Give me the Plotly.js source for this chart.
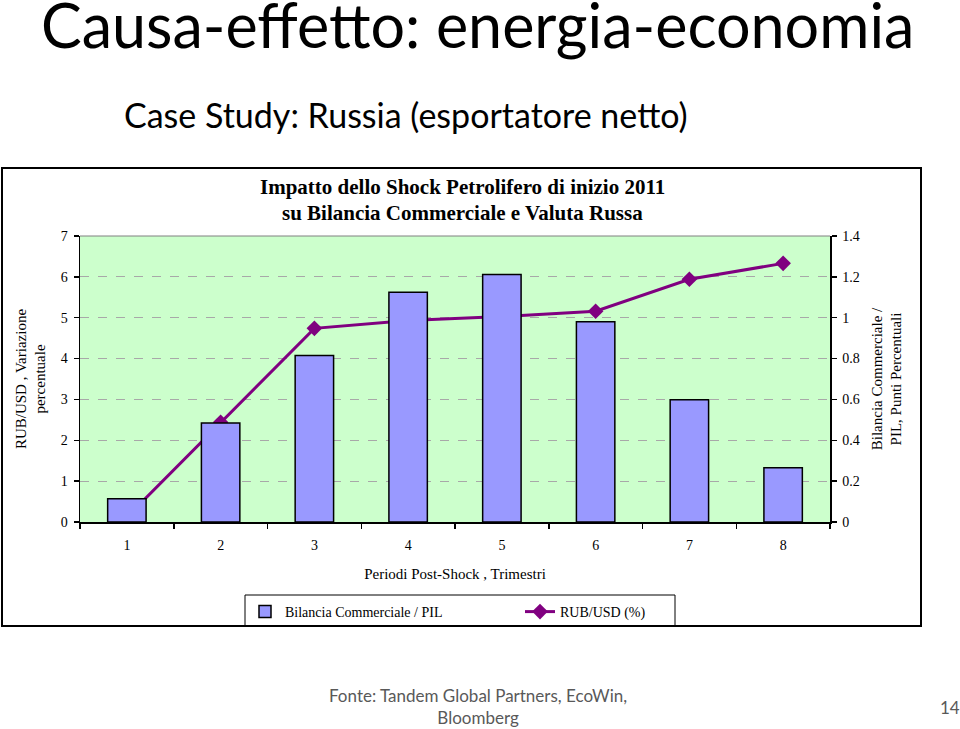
<!DOCTYPE html>
<html>
<head>
<meta charset="utf-8">
<script src="https://cdn.plot.ly/plotly-3.0.1.min.js"></script>
<style>
html,body{margin:0;padding:0;background:#fff;}
#chart{width:960px;height:729px;}
</style>
</head>
<body>
<div id="chart"></div>
<script>
// ---- data ----
const periods = ["1", "2", "3", "4", "5", "6", "7", "8"];
const bilanciaPIL = [0.114, 0.485, 0.815, 1.125, 1.212, 0.98, 0.598, 0.265];   // right axis
const rubUsd = [0.12, 2.44, 4.74, 4.93, 5.03, 5.16, 5.94, 6.33];               // left axis
const leftTicks = [0, 1, 2, 3, 4, 5, 6, 7];
const rightTicks = [0, 0.2, 0.4, 0.6, 0.8, 1, 1.2, 1.4];
const rightTickText = ["0", "0.2", "0.4", "0.6", "0.8", "1", "1.2", "1.4"];

const serif = "Liberation Serif, Times New Roman, serif";
const sans = "Lato, Noto Sans, sans-serif";

// plot area in pixels: x 80..830, y 236..522
const L = 80, R = 830, T = 236, B = 522;
const W = R - L, H = B - T;
const px = x => (x - L) / W;
const py = y => (B - y) / H;

const traces = [
  {
    type: "bar", x: periods, y: bilanciaPIL, yaxis: "y2",
    name: "Bilancia Commerciale / PIL",
    width: 0.41,
    marker: {color: "#9999ff", line: {color: "#000000", width: 1.5}}
  },
  {
    type: "scatter", mode: "lines+markers", x: periods, y: rubUsd,
    name: "RUB/USD (%)",
    line: {color: "#800080", width: 3},
    marker: {symbol: "diamond", size: 12, color: "#800080"}
  }
];

const layout = {
  width: 960, height: 729,
  margin: {l: L, r: 960 - R, t: T, b: 729 - B, pad: 0},
  paper_bgcolor: "#ffffff",
  plot_bgcolor: "#ccffcc",
  showlegend: true,
  legend: {
    orientation: "h",
    x: px(245), y: py(596), xanchor: "left", yanchor: "top",
    bgcolor: "rgba(0,0,0,0)", borderwidth: 0,
    font: {family: serif, size: 14, color: "#000"},
    entrywidth: 230,
    traceorder: "normal"
  },
  xaxis: {
    type: "category",
    range: [-0.5, 7.5],
    showline: true, linecolor: "#000", linewidth: 1.5,
    ticks: "outside", ticklen: 5, tickwidth: 1.5, tickcolor: "#000",
    tickson: "boundaries",
    ticklabelstandoff: 10,
    showgrid: false,
    tickfont: {family: serif, size: 14, color: "#000"},
    title: {text: "Periodi Post-Shock , Trimestri", font: {family: serif, size: 15, color: "#000"}, standoff: 16},
    zeroline: false
  },
  yaxis: {
    range: [0, 7],
    tickvals: leftTicks,
    showline: true, linecolor: "#000", linewidth: 1.5,
    ticks: "outside", ticklen: 5, tickwidth: 1.5, tickcolor: "#000",
    ticklabelstandoff: 3,
    showgrid: true, gridcolor: "#a8a8a8", griddash: "dash", gridwidth: 1,
    zeroline: false,
    tickfont: {family: serif, size: 14, color: "#000"},
    title: {text: "RUB/USD , Variazione<br>percentuale", font: {family: serif, size: 15, color: "#000"}, standoff: 11}
  },
  yaxis2: {
    range: [0, 1.4],
    overlaying: "y", side: "right",
    tickvals: rightTicks, ticktext: rightTickText,
    showline: true, linecolor: "#000", linewidth: 1.5,
    ticks: "outside", ticklen: 5, tickwidth: 1.5, tickcolor: "#000",
    ticklabelstandoff: 3,
    showgrid: false, zeroline: false,
    tickfont: {family: serif, size: 14, color: "#000"},
    title: {text: "Bilancia Commerciale /<br>PIL, Punti Percentuali", font: {family: serif, size: 15, color: "#000"}, standoff: 12}
  },
  shapes: [
    {type: "rect", xref: "paper", yref: "paper",
     x0: px(2), x1: px(921), y0: py(626), y1: py(168),
     line: {color: "#000", width: 2}, fillcolor: "rgba(0,0,0,0)", layer: "below"},
    {type: "rect", xref: "paper", yref: "paper",
     x0: px(245), x1: px(675), y0: py(626), y1: py(595),
     line: {color: "#000", width: 1}, fillcolor: "rgba(0,0,0,0)", layer: "below"},
    {type: "line", xref: "paper", yref: "paper",
     x0: 0, x1: 1, y0: 1, y1: 1,
     line: {color: "#808080", width: 1}}
  ],
  annotations: [
    {text: "Causa-effetto: energia-economia", xref: "paper", yref: "paper",
     x: px(478), y: py(24), xanchor: "center", yanchor: "middle", showarrow: false,
     font: {family: sans, size: 61, color: "#000"}},
    {text: "Case Study: Russia (esportatore netto)", xref: "paper", yref: "paper",
     x: px(122), y: py(115), xanchor: "left", yanchor: "middle", showarrow: false,
     font: {family: sans, size: 34, color: "#000"}},
    {text: "<b>Impatto dello Shock Petrolifero di inizio 2011</b>", xref: "paper", yref: "paper",
     x: px(462), y: py(187), xanchor: "center", yanchor: "middle", showarrow: false,
     font: {family: serif, size: 21, color: "#000"}},
    {text: "<b>su Bilancia Commerciale e Valuta Russa</b>", xref: "paper", yref: "paper",
     x: px(462), y: py(213), xanchor: "center", yanchor: "middle", showarrow: false,
     font: {family: serif, size: 21, color: "#000"}},
    {text: "Fonte: Tandem Global Partners, EcoWin,<br>Bloomberg", xref: "paper", yref: "paper",
     x: px(478), y: py(706), xanchor: "center", yanchor: "middle", showarrow: false, align: "center",
     font: {family: sans, size: 17, color: "#595959"}},
    {text: "14", xref: "paper", yref: "paper",
     x: px(950), y: py(707), xanchor: "center", yanchor: "middle", showarrow: false,
     font: {family: sans, size: 17, color: "#595959"}}
  ]
};

Plotly.newPlot("chart", traces, layout, {displayModeBar: false, staticPlot: true});
</script>
</body>
</html>
